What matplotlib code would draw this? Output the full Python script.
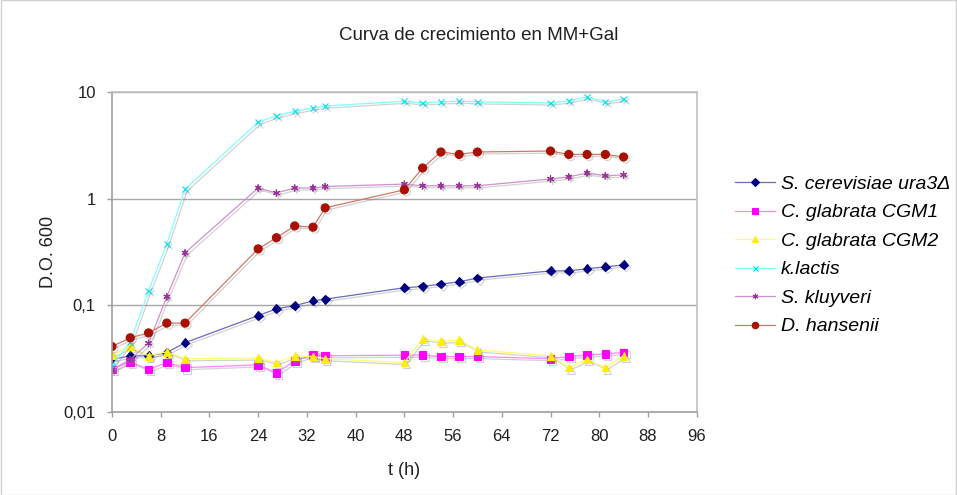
import matplotlib
matplotlib.use("Agg")
import matplotlib.pyplot as plt
import matplotlib.patheffects as pe
from matplotlib.ticker import FixedLocator, FixedFormatter, NullLocator

# DATOS
tiempo = [0, 3, 6, 9, 12, 24, 27, 30, 33, 35, 48, 51, 54, 57, 60, 72, 75, 78, 81, 84]

s_cerevisiae = [0.031, 0.0335, 0.0335, 0.036, 0.0445, 0.080, 0.0925, 0.099, 0.110, 0.114,
                0.146, 0.150, 0.158, 0.166, 0.180, 0.210, 0.210, 0.220, 0.229, 0.239]
c_glabrata_1 = [0.025, 0.0295, 0.025, 0.029, 0.026, 0.0276, 0.0232, 0.030, 0.0343, 0.0336,
                0.034, 0.034, 0.033, 0.033, 0.033, 0.0315, 0.033, 0.034, 0.035, 0.036]
c_glabrata_2 = [0.0343, 0.041, 0.0336, 0.0366, 0.0315, 0.032, 0.029, 0.0336, 0.033, 0.0315,
                0.029, 0.0484, 0.046, 0.047, 0.038, 0.0336, 0.026, 0.031, 0.026, 0.0336]
k_lactis = [0.027, 0.045, 0.136, 0.376, 1.23, 5.2, 6.0, 6.6, 7.1, 7.4,
            8.2, 7.9, 8.1, 8.2, 8.1, 7.9, 8.3, 9.0, 8.1, 8.6]
s_kluyveri = [0.0248, 0.031, 0.044, 0.12, 0.31, 1.26, 1.13, 1.26, 1.26, 1.3,
              1.37, 1.32, 1.32, 1.32, 1.32, 1.53, 1.6, 1.74, 1.64, 1.67]
d_hansenii = [0.041, 0.0495, 0.055, 0.068, 0.068, 0.338, 0.43, 0.555, 0.54, 0.82,
              1.21, 1.94, 2.74, 2.6, 2.74, 2.8, 2.6, 2.6, 2.6, 2.46]

nombres = ['S. cerevisiae ura3Δ', 'C. glabrata CGM1', 'C. glabrata CGM2',
           'k.lactis', 'S. kluyveri', 'D. hansenii']
series = [s_cerevisiae, c_glabrata_1, c_glabrata_2, k_lactis, s_kluyveri, d_hansenii]

x_ticks = list(range(0, 97, 8))
y_ticks = [0.01, 0.1, 1, 10]
y_labels = ['0,01', '0,1', '1', '10']

# estilo de cada serie: color de linea, color de marcador, marcador, tamano
estilos = [
    ('#6a6ac0', '#000080', 'D', 4.5),
    ('#ff88ff', '#ff00ff', 's', 5.5),
    ('#ffff70', '#ffee00', '^', 5.5),
    ('#80ffff', '#00e0f0', 'x', 4.5),
    ('#d090d0', '#993399', (6, 2, 0), 5.0),
    ('#d07868', '#a81000', 'o', 5.8),
]

plt.rcParams['font.family'] = ['Liberation Sans', 'DejaVu Sans']

fig = plt.figure(figsize=(9.57, 4.95), dpi=100)
ax = fig.add_axes([0.117, 0.168, 0.611, 0.646])

# sombra gris debajo de lineas y marcadores
sombra = [pe.SimpleLineShadow(offset=(1.5, -1.5), shadow_color='#808080', alpha=0.35),
          pe.Normal()]

for valores, nombre, (c_lin, c_mar, mk, ms) in zip(series, nombres, estilos):
    ax.plot(tiempo, valores, color=c_lin, linewidth=0.9, marker=mk, markersize=ms,
            markerfacecolor=c_mar, markeredgecolor=c_mar, markeredgewidth=0.8,
            label=nombre, path_effects=sombra)

ax.set_yscale('log')
ax.set_ylim(0.01, 10)
ax.set_xlim(0, 96)
ax.yaxis.set_major_locator(FixedLocator(y_ticks))
ax.yaxis.set_major_formatter(FixedFormatter(y_labels))
ax.yaxis.set_minor_locator(NullLocator())
ax.set_xticks(x_ticks)

ax.grid(axis='y', color='#a8a8a8', linewidth=1.0)
ax.set_axisbelow(True)
for s in ax.spines.values():
    s.set_color('#c0c0c0')
    s.set_linewidth(1.2)
ax.spines['left'].set_color('#a0a0a0')
ax.spines['bottom'].set_color('#a0a0a0')

ax.tick_params(axis='both', direction='out', length=3.6, width=1, color='#a0a0a0',
               labelsize=12, labelcolor='#202020')
ax.tick_params(axis='x', pad=9)
ax.tick_params(axis='y', pad=8)

fig.text(0.5, 1 - 35 / 495, 'Curva de crecimiento en MM+Gal', fontsize=13.5,
         ha='center', va='center', color='#202020')
ax.set_xlabel('t (h)', fontsize=13, color='#202020', labelpad=13)
ax.set_ylabel('D.O. 600', fontsize=13, color='#202020', labelpad=5)

leg = fig.legend(loc='upper left', bbox_to_anchor=(0.768, 0.646), frameon=False,
                 prop={'style': 'italic', 'size': 14}, handlelength=2.05,
                 handletextpad=0.3, labelspacing=0.56, borderaxespad=0, borderpad=0)
for h in leg.legend_handles:
    h.set_path_effects([])
    h.set_markersize(h.get_markersize() * 0.8)

# marco de la figura
fig.patches.append(plt.Rectangle((0.001, 0.001), 0.998, 0.998, transform=fig.transFigure,
                                 fill=False, edgecolor='#d0d0d0', linewidth=1))

fig.savefig('out.png', dpi=100)
